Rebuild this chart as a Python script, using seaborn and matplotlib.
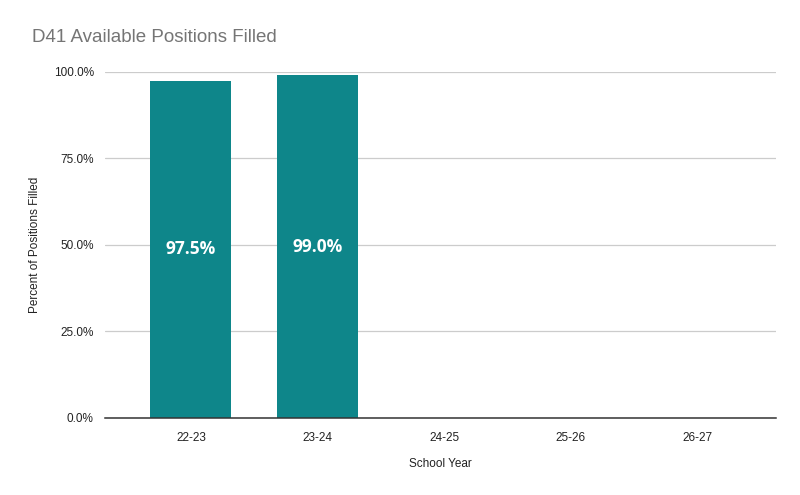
import matplotlib
matplotlib.use('Agg')
import matplotlib.pyplot as plt
import seaborn as sns
import pandas as pd
from matplotlib.ticker import FuncFormatter

# Data
years = ['22-23', '23-24', '24-25', '25-26', '26-27']
filled = [97.5, 99.0, 0, 0, 0]
labels = ['97.5%', '99.0%', '', '', '']

df = pd.DataFrame({'year': years, 'filled': filled})

sns.set_theme(style='white')
plt.rcParams['font.family'] = ['Liberation Sans', 'DejaVu Sans']

fig = plt.figure(figsize=(8, 4.95), dpi=100)
ax = fig.add_axes([0.131, 0.1556, 0.839, 0.699])

sns.barplot(data=df, x='year', y='filled', color='#0e868a', saturation=1,
            width=0.64, linewidth=0, ax=ax, zorder=3)

for p, lab in zip(ax.patches, labels):
    if lab:
        ax.text(p.get_x() + p.get_width() / 2, p.get_height() / 2, lab,
                ha='center', va='center', color='white', fontsize=12.5,
                fontweight='bold', family='Open Sans', zorder=4)

ax.set_ylim(0, 100)
ax.set_xlim(-0.68, 4.62)
ax.set_yticks([0, 25, 50, 75, 100])
ax.yaxis.set_major_formatter(FuncFormatter(lambda v, _: f'{v:.1f}%'))
ax.grid(axis='y', color='#cccccc', linewidth=0.9, zorder=0)
ax.tick_params(axis='both', length=0, labelsize=8.5, colors='#222222', pad=8)
ax.tick_params(axis='x', pad=10)
for s in ['top', 'right', 'left']:
    ax.spines[s].set_visible(False)
ax.spines['bottom'].set_color('#333333')
ax.spines['bottom'].set_linewidth(1.1)
ax.spines['bottom'].set_zorder(5)

ax.set_xlabel('School Year', fontsize=8.5, color='#222222', labelpad=10)
ax.set_ylabel('Percent of Positions Filled', fontsize=8.5, color='#222222', labelpad=9)

fig.text(0.04, 0.925, 'D41 Available Positions Filled', fontsize=13.5,
         color='#757575', ha='left', va='center')

fig.savefig('out.png', dpi=100)
